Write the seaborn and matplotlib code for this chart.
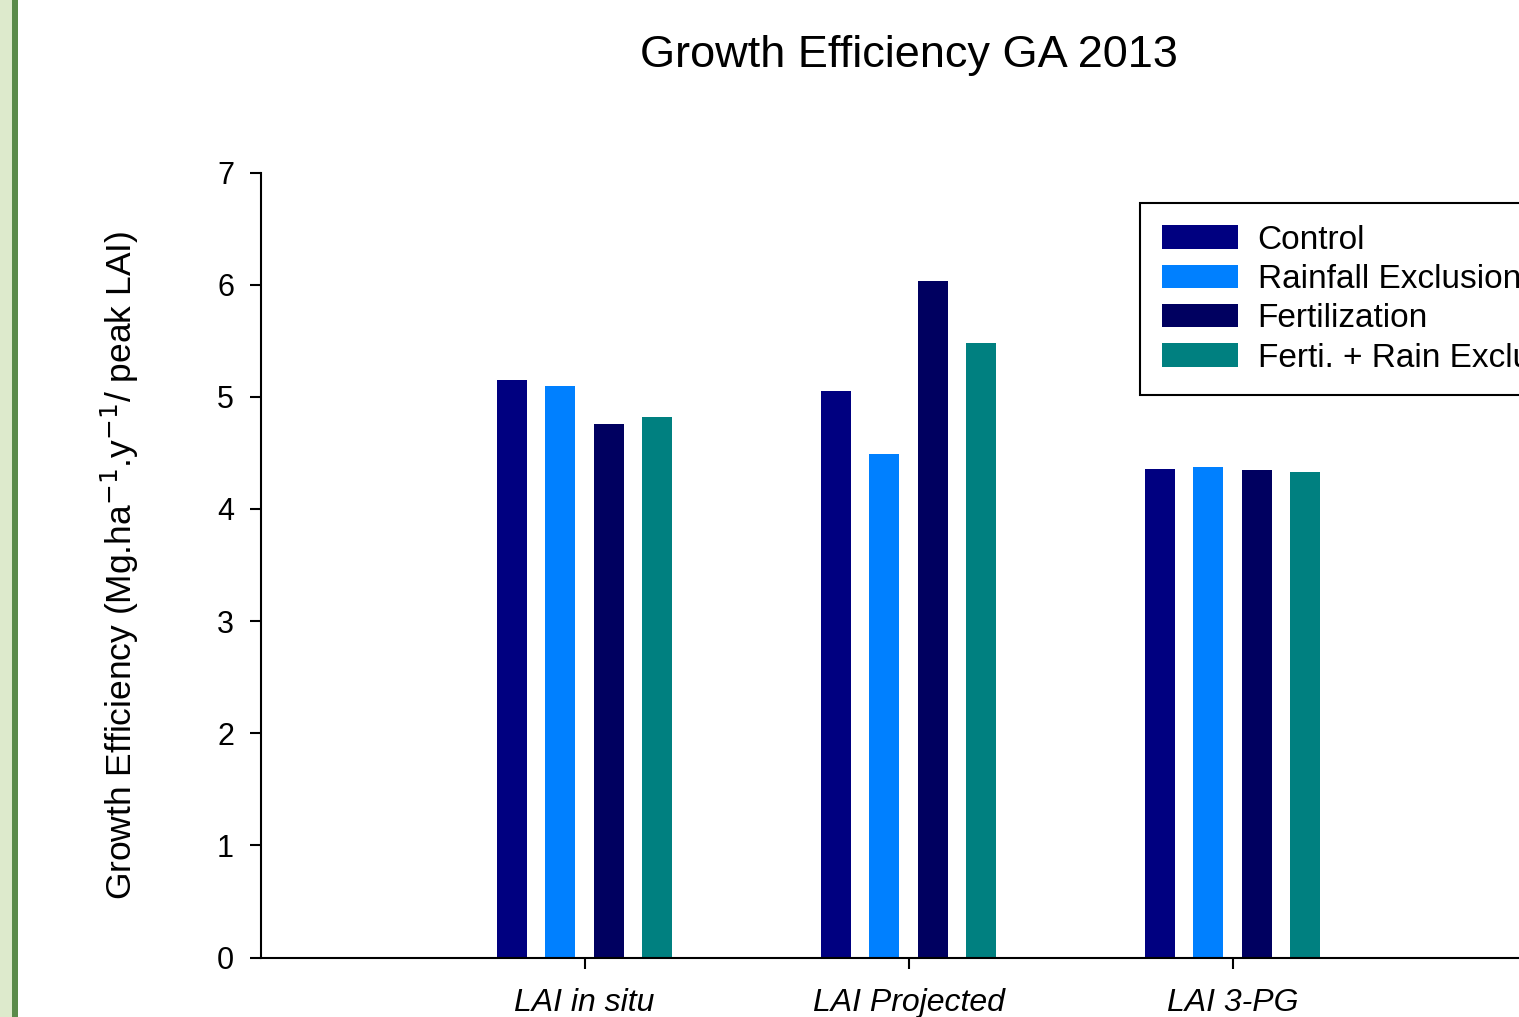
import pandas as pd
import seaborn as sns
import matplotlib.pyplot as plt
from matplotlib.patches import Rectangle

# values
methods = ["LAI in situ", "LAI Projected", "LAI 3-PG"]
treatments = ["Control", "Rainfall Exclusion", "Fertilization", "Ferti. + Rain Exclusion"]
control = [5.15, 5.05, 4.36]
rain_excl = [5.10, 4.49, 4.37]
fert = [4.76, 6.03, 4.35]
fert_rain = [4.82, 5.48, 4.33]
colors = ["#000080", "#0080FF", "#000060", "#008080"]

df = pd.DataFrame({
    "method": methods * 4,
    "treatment": [t for t in treatments for _ in methods],
    "ge": control + rain_excl + fert + fert_rain,
})

sns.set_style("ticks")
plt.rcParams["font.family"] = ["Liberation Sans", "DejaVu Sans"]
plt.rcParams["mathtext.fontset"] = "custom"
plt.rcParams["mathtext.rm"] = "Liberation Sans"
plt.rcParams["mathtext.it"] = "Liberation Sans:italic"
plt.rcParams["text.color"] = "black"

fig = plt.figure(figsize=(15.19, 10.17), dpi=100)
ax = fig.add_axes([260.5 / 1519, 59.5 / 1017, 1296 / 1519, 785 / 1017])

sns.barplot(data=df, x="method", y="ge", hue="treatment", hue_order=treatments,
            palette=dict(zip(treatments, colors)), width=0.6, gap=0.38,
            saturation=1, linewidth=0, ax=ax)

ax.set_xlim(-1, 3)
ax.set_ylim(0, 7)
ax.set_yticks(range(8))
ax.set_xlabel("")
ax.set_ylabel("")
for s in ["top", "right"]:
    ax.spines[s].set_visible(False)
for s in ["left", "bottom"]:
    ax.spines[s].set_linewidth(1.5)
    ax.spines[s].set_color("black")
ax.tick_params(axis="both", length=8, width=1.5, colors="black")
ax.tick_params(axis="y", pad=11, labelsize=22)
ax.tick_params(axis="x", pad=14, labelsize=23)
for lab in ax.get_xticklabels():
    lab.set_fontstyle("italic")

fig.text(909 / 1519, 1 - 55 / 1017, "Growth Efficiency GA 2013", fontsize=32.5,
         ha="center", va="center")
fig.text(120 / 1519, 1 - 565 / 1017,
         r"Growth Efficiency (Mg.ha$^{\mathsf{-1}}$.y$^{\mathsf{-1}}$/ peak LAI)",
         fontsize=25.5, rotation=90, ha="center", va="center")

leg = ax.legend(loc="upper left", bbox_to_anchor=(1140 / 1519, 1 - 203 / 1017),
                bbox_transform=fig.transFigure, fontsize=24, frameon=True,
                fancybox=False, framealpha=1, edgecolor="black", borderaxespad=0,
                borderpad=0.65, handlelength=2.28, handleheight=0.69,
                handletextpad=0.6, labelspacing=0.25)
leg.get_frame().set_linewidth(1.5)
for t in leg.get_texts():
    t.set_color("black")

# green strip on the left edge
fig.patches.append(Rectangle((0, 0), 11.5 / 1519, 1, transform=fig.transFigure,
                             facecolor="#DDEACC", edgecolor="none"))
fig.patches.append(Rectangle((11.5 / 1519, 0), 6 / 1519, 1, transform=fig.transFigure,
                             facecolor="#5B8B4B", edgecolor="none"))

fig.savefig("out.png", dpi=100)
